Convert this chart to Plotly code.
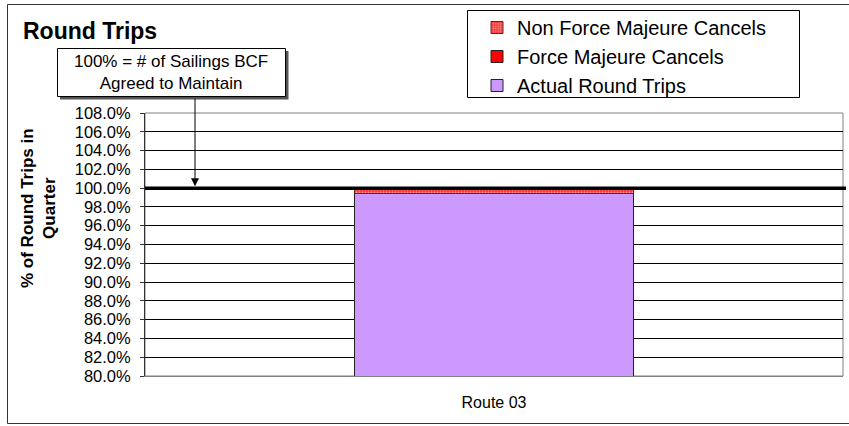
import plotly.graph_objects as go

# ---- data ----
categories = ["Route 03"]
actual_round_trips = [99.4]
force_majeure_cancels = [0.0]
non_force_majeure_cancels = [0.6]
y_tick_values = [80, 82, 84, 86, 88, 90, 92, 94, 96, 98, 100, 102, 104, 106, 108]
target_level = 100

FONT = "Liberation Sans, Arial, sans-serif"
W, H = 849, 426
L, R, T, B = 145, 843, 113, 376  # plot area in pixels


def px(x):
    return (x - L) / (R - L)


def py(y):
    return (B - y) / (B - T)


fig = go.Figure()
fig.add_trace(go.Bar(
    x=categories, y=actual_round_trips, name="Actual Round Trips",
    marker=dict(color="#CC99FF", line=dict(color="#222222", width=1)),
    width=0.4, legendgroup="a", legendrank=3))
fig.add_trace(go.Bar(
    x=categories, y=force_majeure_cancels, name="Force Majeure Cancels",
    marker=dict(color="#FF0000", line=dict(color="#222222", width=1)),
    width=0.4, legendgroup="b", legendrank=2))
fig.add_trace(go.Bar(
    x=categories, y=non_force_majeure_cancels, name="Non Force Majeure Cancels",
    marker=dict(color="#FF3333", line=dict(color="#662222", width=1),
                pattern=dict(shape=".", fgcolor="#FFFFFF", bgcolor="#FF3333",
                             size=3, solidity=0.35)),
    width=0.4, legendgroup="c", legendrank=1))

shapes = []
# outer chart border
shapes.append(dict(type="rect", xref="paper", yref="paper",
                   x0=px(7.5), x1=px(860), y0=py(423.5), y1=py(4.5),
                   line=dict(color="#333333", width=1), layer="below"))
# plot area border
shapes.append(dict(type="rect", xref="paper", yref="paper",
                   x0=0, x1=1, y0=0, y1=1,
                   line=dict(color="#808080", width=1), layer="below"))
# 100% target line
shapes.append(dict(type="line", xref="paper", yref="y",
                   x0=0, x1=px(846), y0=target_level, y1=target_level,
                   line=dict(color="#000000", width=3.5)))
# legend box
shapes.append(dict(type="rect", xref="paper", yref="paper",
                   x0=px(467.5), x1=px(799.5), y0=py(97.5), y1=py(10.5),
                   line=dict(color="#000000", width=1), fillcolor="white"))
# callout box shadow + box
shapes.append(dict(type="rect", xref="paper", yref="paper",
                   x0=px(60), x1=px(288.5), y0=py(99.5), y1=py(51),
                   line=dict(width=0), fillcolor="#555555"))
shapes.append(dict(type="rect", xref="paper", yref="paper",
                   x0=px(57.5), x1=px(285.5), y0=py(96.5), y1=py(48.5),
                   line=dict(color="#000000", width=1), fillcolor="white"))

annotations = [
    dict(text="<b>Round Trips</b>", xref="paper", yref="paper",
         x=px(21), y=py(31), xanchor="left", yanchor="middle",
         showarrow=False, font=dict(size=23, color="black", family=FONT)),
    dict(text="100% = # of Sailings BCF<br>Agreed to Maintain", xref="paper", yref="paper",
         x=px(171), y=py(72), xanchor="center", yanchor="middle",
         showarrow=False, font=dict(size=17, color="black", family=FONT)),
    dict(text="", xref="paper", yref="y", x=px(195), y=target_level,
         ax=0, ay=-91, showarrow=True, arrowhead=2, arrowsize=1.6,
         arrowwidth=1, arrowcolor="black", standoff=2),
    dict(text="<b>% of Round Trips in<br>Quarter</b>", xref="paper", yref="paper",
         x=px(38), y=py(208), xanchor="center", yanchor="middle", textangle=-90,
         showarrow=False, font=dict(size=17, color="black", family=FONT)),
]

fig.update_layout(
    width=W, height=H,
    margin=dict(l=L, r=W - R, t=T, b=H - B, pad=0),
    paper_bgcolor="white", plot_bgcolor="white",
    barmode="stack",
    font=dict(family=FONT, color="black", size=16),
    showlegend=True,
    legend=dict(x=px(477), y=py(8), xanchor="left", yanchor="top",
                traceorder="grouped", tracegroupgap=0,
                bgcolor="rgba(0,0,0,0)", borderwidth=0,
                font=dict(size=20, family=FONT, color="black")),
    shapes=shapes,
    annotations=annotations,
    bargap=0.6,
)
fig.update_xaxes(type="category", range=[-0.5, 0.5], showline=True,
                 linecolor="#808080", linewidth=1, ticks="", showgrid=False,
                 tickfont=dict(size=16), ticklabelstandoff=12)
fig.update_yaxes(range=[80, 108], tickvals=y_tick_values,
                 ticktext=[f"{v:.1f}%" for v in y_tick_values],
                 showgrid=True, gridcolor="#000000", gridwidth=1,
                 showline=True, linecolor="#333333", linewidth=1,
                 ticks="outside", ticklen=4, tickcolor="#333333",
                 tickfont=dict(size=16.5), ticklabelstandoff=6, zeroline=False)

fig.write_html("out.html", config={"displayModeBar": False},
               post_script="document.body.style.margin='0';document.body.style.overflow='hidden';")
